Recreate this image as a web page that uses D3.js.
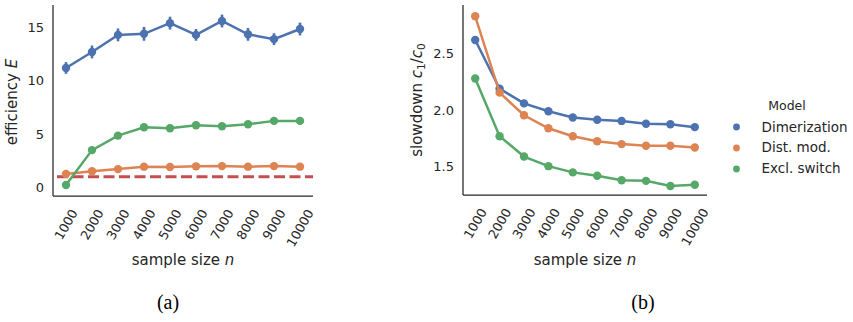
<!DOCTYPE html>
<html>
<head>
<meta charset="utf-8">
<script src="https://cdn.jsdelivr.net/npm/d3@7"></script>
<style>
  body { margin: 0; background: #fff; }
  text { font-family: "DejaVu Sans", sans-serif; fill: #262626; }
</style>
</head>
<body>
<script>
// data
var sampleSizes = [1000, 2000, 3000, 4000, 5000, 6000, 7000, 8000, 9000, 10000]
var models = ["Dimerization", "Dist. mod.", "Excl. switch"]
var colors = ["#4c72b0", "#dd8452", "#55a868"]

// panel (a): efficiency E
var effDimer = [11.2, 12.7, 14.3, 14.4, 15.4, 14.3, 15.6, 14.35, 13.9, 14.85]
var effDimerErr = [0.55, 0.6, 0.6, 0.65, 0.6, 0.55, 0.6, 0.6, 0.55, 0.6]
var effDist = [1.27, 1.52, 1.72, 1.95, 1.92, 1.98, 2.0, 1.95, 2.0, 1.95]
var effExcl = [0.23, 3.5, 4.86, 5.64, 5.55, 5.83, 5.73, 5.92, 6.24, 6.24]
var effBaseline = 1
var effTicks = [0, 5, 10, 15]

// panel (b): slowdown c1/c0
var slowDimer = [2.62, 2.19, 2.06, 1.99, 1.935, 1.915, 1.905, 1.88, 1.875, 1.85]
var slowDist = [2.83, 2.155, 1.955, 1.84, 1.77, 1.725, 1.70, 1.685, 1.685, 1.67]
var slowExcl = [2.28, 1.77, 1.59, 1.505, 1.45, 1.42, 1.38, 1.375, 1.33, 1.34]
var slowTicks = [1.5, 2.0, 2.5]

var width = 853, height = 322

var svg = d3.select("body")
  .append("svg")
  .attr("width", width)
  .attr("height", height)

// draw one panel: spines, ticks, labels, lines
function drawPanel(opt) {
  var g = svg.append("g")

  var x = d3.scalePoint()
    .domain(sampleSizes)
    .range([opt.left, opt.right])
    .padding(0.5)

  var y = d3.scaleLinear()
    .domain(opt.yDomain)
    .range([opt.bottom, opt.top])

  // y tick labels
  var ya = g.append("g")
    .attr("transform", "translate(" + opt.left + ",0)")
    .call(d3.axisLeft(y).tickValues(opt.yTicks).tickSize(0).tickPadding(9).tickFormat(opt.yFormat))
  ya.select(".domain").remove()
  ya.selectAll("text")
    .style("font-family", "DejaVu Sans")
    .style("font-size", "13px")
    .attr("fill", "#262626")

  // x tick labels rotated
  var fs = 12.8
  g.selectAll("xlabs")
    .data(sampleSizes)
    .enter()
    .append("text")
      .text(function(d){ return d })
      .style("font-size", fs + "px")
      .style("text-anchor", "middle")
      .attr("dy", "0.36em")
      .attr("transform", function(d){
        var L = this.getComputedTextLength()
        var cy = opt.bottom + 12 + (0.866 * L + 0.5 * 0.73 * fs) / 2
        return "translate(" + x(d) + "," + cy + ")rotate(-60)"
      })

  // spines
  g.append("line")
    .attr("x1", opt.left).attr("x2", opt.left)
    .attr("y1", opt.top).attr("y2", opt.bottom)
    .attr("stroke", "#262626").attr("stroke-width", 1.25)
  g.append("line")
    .attr("x1", opt.left).attr("x2", opt.right)
    .attr("y1", opt.bottom).attr("y2", opt.bottom)
    .attr("stroke", "#262626").attr("stroke-width", 1.25)

  // x axis label
  var xl = g.append("text")
    .attr("x", (opt.left + opt.right) / 2)
    .attr("y", 265)
    .style("text-anchor", "middle")
    .style("font-size", "15px")
  xl.append("tspan").text("sample size ")
  xl.append("tspan").text("n").style("font-style", "italic")

  if (opt.extra) opt.extra(g, x, y)

  // series
  var line = d3.line()
    .x(function(d, i){ return x(sampleSizes[i]) })
    .y(function(d){ return y(d) })

  opt.series.forEach(function(vals, k) {
    if (opt.errs && opt.errs[k]) {
      g.selectAll("errs")
        .data(vals)
        .enter()
        .append("line")
          .attr("x1", function(d, i){ return x(sampleSizes[i]) })
          .attr("x2", function(d, i){ return x(sampleSizes[i]) })
          .attr("y1", function(d, i){ return y(d - opt.errs[k][i]) })
          .attr("y2", function(d, i){ return y(d + opt.errs[k][i]) })
          .attr("stroke", colors[k])
          .attr("stroke-width", 2.6)
    }
    g.append("path")
      .datum(vals)
      .attr("d", line)
      .attr("fill", "none")
      .attr("stroke", colors[k])
      .attr("stroke-width", 2.5)
    g.selectAll("pts")
      .data(vals)
      .enter()
      .append("circle")
        .attr("cx", function(d, i){ return x(sampleSizes[i]) })
        .attr("cy", function(d){ return y(d) })
        .attr("r", 4.2)
        .attr("fill", colors[k])
  })

  // caption
  svg.append("text")
    .attr("x", opt.captionX)
    .attr("y", 308.5)
    .style("text-anchor", "middle")
    .style("font-family", "'Liberation Serif', serif")
    .style("font-size", "20px")
    .style("fill", "#000")
    .text(opt.caption)

  return g
}

// panel (a)
drawPanel({
  left: 53, right: 313, top: 5, bottom: 196,
  yDomain: [-0.8, 17.1],
  yTicks: effTicks,
  yFormat: d3.format("d"),
  series: [effDimer, effDist, effExcl],
  errs: [effDimerErr, null, null],
  caption: "(a)", captionX: 168,
  extra: function(g, x, y) {
    // reference line at E = 1, drawn under the series
    g.append("line")
      .attr("x1", 57).attr("x2", 313)
      .attr("y1", y(effBaseline)).attr("y2", y(effBaseline))
      .attr("stroke", "#c44e52")
      .attr("stroke-width", 3)
      .attr("stroke-dasharray", "11,4.5")
  }
})

// panel (b)
drawPanel({
  left: 463, right: 707, top: 5, bottom: 195,
  yDomain: [1.25, 2.93],
  yTicks: slowTicks,
  yFormat: d3.format(".1f"),
  series: [slowDimer, slowDist, slowExcl],
  errs: null,
  caption: "(b)", captionX: 643
})

// y axis labels
var yl1 = svg.append("text")
  .attr("transform", "translate(17,102)rotate(-90)")
  .style("text-anchor", "middle")
  .style("font-size", "15px")
yl1.append("tspan").text("efficiency ")
yl1.append("tspan").text("E").style("font-style", "italic")

var yl2 = svg.append("text")
  .attr("transform", "translate(422,100)rotate(-90)")
  .style("text-anchor", "middle")
  .style("font-size", "15px")
yl2.append("tspan").text("slowdown ")
yl2.append("tspan").text("c").style("font-style", "italic")
yl2.append("tspan").text("1").style("font-size", "10.5px").attr("dy", 3)
yl2.append("tspan").text("/").attr("dy", -3)
yl2.append("tspan").text("c").style("font-style", "italic")
yl2.append("tspan").text("0").style("font-size", "10.5px").attr("dy", 3)

// legend
var legend = svg.append("g")
legend.append("text")
  .attr("x", 787).attr("y", 110)
  .style("text-anchor", "middle")
  .style("font-size", "12.5px")
  .text("Model")
legend.selectAll("items")
  .data(models)
  .enter()
  .append("circle")
    .attr("cx", 736.5)
    .attr("cy", function(d, i){ return 127 + i * 21 })
    .attr("r", 3.4)
    .attr("fill", function(d, i){ return colors[i] })
legend.selectAll("itemlabels")
  .data(models)
  .enter()
  .append("text")
    .attr("x", 761.5)
    .attr("y", function(d, i){ return 131.5 + i * 20.5 })
    .style("font-size", "13.5px")
    .text(function(d){ return d })
</script>
</body>
</html>
